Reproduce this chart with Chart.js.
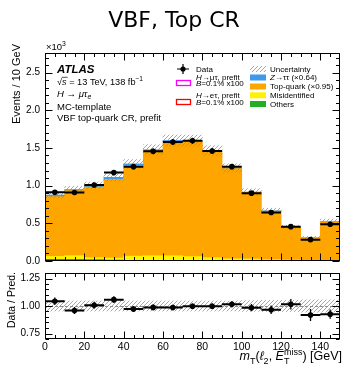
<!DOCTYPE html>
<html>
<head>
<meta charset="utf-8">
<script src="https://cdn.jsdelivr.net/npm/chart.js@4.4.1/dist/chart.umd.min.js"></script>
<style>
  html, body { margin: 0; padding: 0; background: #fff; }
  #wrap { position: relative; width: 344px; height: 369px; overflow: hidden; background: #fff; }
  canvas { position: absolute; left: 0; }
  #main { top: 0; }
  #ratio { top: 262px; }
</style>
</head>
<body>
<div id="wrap">
  <canvas id="main" width="344" height="272" style="width:344px;height:272px"></canvas>
  <canvas id="ratio" width="344" height="107" style="width:344px;height:107px"></canvas>
</div>
<script>
// m_T bins, 10 GeV wide, 0-150 GeV
const binLow = [0, 10, 20, 30, 40, 50, 60, 70, 80, 90, 100, 110, 120, 130, 140];
const binWidth = 10;

// events per bin
const dataCounts = [913, 908, 1008, 1173, 1252, 1456, 1578, 1595, 1460, 1252, 900, 643, 456, 283, 487];
const others     = [5, 5, 4, 4, 4, 4, 4, 3, 3, 3, 2, 2, 2, 1, 1];
const misid      = [55, 65, 40, 35, 60, 65, 65, 55, 40, 25, 25, 15, 10, 8, 6];
const topQuark   = [795, 862, 937, 1045, 1203, 1391, 1518, 1530, 1412, 1199, 882, 645, 434, 297, 517];
const ztautau    = [20, 15, 20, 25, 20, 15, 12, 10, 8, 6, 5, 4, 3, 2, 2];
// relative uncertainty on the prediction
const predUnc    = [0.045, 0.045, 0.045, 0.045, 0.045, 0.045, 0.045, 0.045, 0.045, 0.045, 0.048, 0.05, 0.05, 0.055, 0.055];
// signals (x100)
const sigMuTau   = [12, 14, 10, 8, 6, 5, 4, 3, 3, 2, 2, 1, 1, 1, 1];
const sigETau    = [15, 10, 8, 6, 5, 4, 3, 3, 2, 2, 1, 1, 1, 1, 1];

const yTicksMain  = [0, 500, 1000, 1500, 2000, 2500];
const yTicksRatio = [0.75, 1.0, 1.25];
const xTicks      = [0, 20, 40, 60, 80, 100, 120, 140];

const FAM = '"Liberation Sans", Arial, sans-serif';
const C_TOP = '#FFA500', C_ZTT = '#3D9BE9', C_MIS = '#FFF200', C_OTH = '#22B022';

const centers = binLow.map(v => v + binWidth / 2);
const pred = binLow.map((_, i) => others[i] + misid[i] + topQuark[i] + ztautau[i]);
const ratio = dataCounts.map((d, i) => d / pred[i]);
const ratioErr = dataCounts.map((d, i) => Math.sqrt(d) / pred[i]);

function hatch() {
  const c = document.createElement('canvas');
  c.width = c.height = 4;
  const g = c.getContext('2d');
  g.strokeStyle = '#909090';
  g.lineWidth = 0.8;
  g.beginPath();
  g.moveTo(0, 4); g.lineTo(4, 0);
  g.moveTo(-1, 1); g.lineTo(1, -1);
  g.moveTo(3, 5); g.lineTo(5, 3);
  g.stroke();
  return g.createPattern(c, 'repeat');
}

// text with italic / sub / sup pieces
function rich(ctx, x, y, parts, size, align) {
  const font = p => (p.i ? 'italic ' : '') + (p.b ? 'bold ' : '') + ((p.d || p.u) ? size * 0.72 : size) + 'px ' + FAM;
  let w = 0;
  parts.forEach(p => { ctx.font = font(p); p.w = ctx.measureText(p.t).width; if (!p.k) w += p.w; });
  let cx = align === 'right' ? x - w : align === 'center' ? x - w / 2 : x;
  ctx.textAlign = 'left';
  ctx.textBaseline = 'alphabetic';
  parts.forEach(p => {
    ctx.font = font(p);
    const dy = p.d ? size * 0.3 : p.u ? -size * 0.42 : 0;
    ctx.fillText(p.t, cx, y + dy);
    if (p.o) {
      ctx.beginPath();
      ctx.lineWidth = 0.7;
      ctx.moveTo(cx, y - size * 0.78);
      ctx.lineTo(cx + p.w + 1, y - size * 0.78);
      ctx.stroke();
    }
    if (!p.k) cx += p.w;
  });
}

function frameTicks(chart, yId, yMajor, yMinor) {
  const { ctx, chartArea: a } = chart;
  const xs = chart.scales.x, ys = chart.scales[yId];
  const L = Math.round(a.left) + 0.5, R = Math.round(a.right) - 0.5;
  const T = Math.round(a.top) + 0.5, B = Math.round(a.bottom) - 0.5;
  ctx.save();
  ctx.strokeStyle = '#000';
  ctx.lineWidth = 1;
  ctx.beginPath();
  for (let v = 0; v < 150; v += 5) {
    const px = Math.round(xs.getPixelForValue(v)) + 0.5;
    const len = v % 20 === 0 ? 7 : 3.5;
    ctx.moveTo(px, B); ctx.lineTo(px, B - len);
    ctx.moveTo(px, T); ctx.lineTo(px, T + len);
  }
  const n = Math.round((ys.max - ys.min) / yMinor);
  for (let k = 0; k <= n; k++) {
    const v = Math.round((ys.min + k * yMinor) / yMinor) * yMinor;
    if (v < ys.min || v > ys.max) continue;
    const py = Math.round(ys.getPixelForValue(v)) + 0.5;
    const major = Math.abs(v / yMajor - Math.round(v / yMajor)) < 1e-6;
    const len = major ? 7 : 3.5;
    ctx.moveTo(L, py); ctx.lineTo(L + len, py);
    ctx.moveTo(R, py); ctx.lineTo(R - len, py);
  }
  ctx.stroke();
  ctx.strokeRect(L, T, R - L, B - T);
  ctx.restore();
}

function errorBars(chart, yId, ys, errs, hw, vw) {
  const { ctx } = chart;
  const xs = chart.scales.x, sc = chart.scales[yId];
  ctx.save();
  ctx.strokeStyle = '#000';
  ctx.beginPath();
  ctx.lineWidth = hw;
  centers.forEach((c, i) => {
    const py = sc.getPixelForValue(ys[i]);
    ctx.moveTo(xs.getPixelForValue(c - binWidth / 2), py);
    ctx.lineTo(xs.getPixelForValue(c + binWidth / 2), py);
  });
  ctx.stroke();
  ctx.beginPath();
  ctx.lineWidth = vw;
  centers.forEach((c, i) => {
    const px = xs.getPixelForValue(c);
    ctx.moveTo(px, sc.getPixelForValue(ys[i] - errs[i]));
    ctx.lineTo(px, sc.getPixelForValue(ys[i] + errs[i]));
  });
  ctx.stroke();
  ctx.restore();
}

const hatchFill = hatch();

const mainDecor = {
  id: 'mainDecor',
  beforeDatasetDraw(chart, args) {
    if (args.index === 0) errorBars(chart, 'yu', dataCounts, dataCounts.map(Math.sqrt), 2, 1.3);
  },
  afterDraw(chart) {
    const ctx = chart.ctx;
    frameTicks(chart, 'y', 500, 100);
    ctx.save();
    ctx.fillStyle = '#000';
    ctx.strokeStyle = '#000';
    // title
    ctx.font = '22px "DejaVu Sans"';
    ctx.textAlign = 'center';
    ctx.textBaseline = 'alphabetic';
    ctx.fillText('VBF, Top CR', 174, 27);
    // multiplier
    rich(ctx, 46, 50, [{ t: '\u00D710' }, { t: '3', u: 1 }], 9.5, 'left');
    // axis title
    ctx.save();
    ctx.translate(20, 44);
    ctx.rotate(-Math.PI / 2);
    ctx.font = '11px ' + FAM;
    ctx.textAlign = 'right';
    ctx.fillText('Events / 10 GeV', 0, 0);
    ctx.restore();
    // labels
    rich(ctx, 57, 73, [{ t: 'ATLAS', i: 1, b: 1 }], 11.5, 'left');
    rich(ctx, 57, 84.5, [{ t: '\u221A' }, { t: 's', i: 1, o: 1 }, { t: ' = 13 TeV, 138 fb' }, { t: '\u22121', u: 1 }], 9.2, 'left');
    rich(ctx, 57, 96.5, [{ t: 'H', i: 1 }, { t: ' \u2192 ' }, { t: '\u03BC\u03C4', i: 1 }, { t: 'e', i: 1, d: 1 }], 9.5, 'left');
    rich(ctx, 57, 109.5, [{ t: 'MC-template' }], 9.5, 'left');
    rich(ctx, 57, 121, [{ t: 'VBF top-quark CR, prefit' }], 9.5, 'left');

    // legend, left column
    const fs = 8;
    ctx.fillStyle = '#000';
    ctx.beginPath(); ctx.arc(183, 69, 2.6, 0, Math.PI * 2); ctx.fill();
    ctx.lineWidth = 1.2;
    ctx.beginPath(); ctx.moveTo(177, 69); ctx.lineTo(189, 69); ctx.moveTo(183, 64); ctx.lineTo(183, 74); ctx.stroke();
    rich(ctx, 196, 71.8, [{ t: 'Data' }], fs, 'left');
    ctx.lineWidth = 1.3;
    ctx.strokeStyle = '#FF00FF';
    ctx.strokeRect(176.5, 80.5, 14, 5);
    ctx.strokeStyle = '#FF0000';
    ctx.strokeRect(176.5, 99.5, 14, 5);
    ctx.strokeStyle = '#000';
    rich(ctx, 196, 79.8, [{ t: 'H', i: 1 }, { t: '\u2192\u03BC\u03C4, prefit' }], fs, 'left');
    rich(ctx, 196, 86.3, [{ t: 'B', i: 1 }, { t: '=0.1% x100' }], fs, 'left');
    rich(ctx, 196, 97.8, [{ t: 'H', i: 1 }, { t: '\u2192e\u03C4, prefit' }], fs, 'left');
    rich(ctx, 196, 104.6, [{ t: 'B', i: 1 }, { t: '=0.1% x100' }], fs, 'left');
    // legend, right column
    const rows = [
      [69, hatchFill, [{ t: 'Uncertainty' }]],
      [77.5, C_ZTT, [{ t: 'Z', i: 1 }, { t: '\u2192\u03C4\u03C4 (\u00D70.64)' }]],
      [86.5, C_TOP, [{ t: 'Top-quark (\u00D70.95)' }]],
      [95.3, C_MIS, [{ t: 'Misidentified' }]],
      [104, C_OTH, [{ t: 'Others' }]]
    ];
    rows.forEach(([y, fill, txt]) => {
      ctx.fillStyle = fill;
      ctx.fillRect(250, y - 3, 16, 6);
      ctx.fillStyle = '#000';
      rich(ctx, 270, y + 2.8, txt, fs, 'left');
    });
    ctx.restore();
  }
};

const ratioDecor = {
  id: 'ratioDecor',
  beforeDatasetDraw(chart, args) {
    if (args.index !== 0) return;
    const { ctx, chartArea: a } = chart;
    const py = Math.round(chart.scales.y.getPixelForValue(1)) + 0.5;
    ctx.save();
    ctx.strokeStyle = '#8c8c8c';
    ctx.lineWidth = 1;
    ctx.setLineDash([3, 2]);
    ctx.beginPath(); ctx.moveTo(a.left, py); ctx.lineTo(a.right, py); ctx.stroke();
    ctx.restore();
    errorBars(chart, 'y', ratio, ratioErr, 2, 1.3);
  },
  afterDraw(chart) {
    const ctx = chart.ctx;
    frameTicks(chart, 'y', 0.25, 0.05);
    ctx.save();
    ctx.fillStyle = '#000';
    ctx.save();
    ctx.translate(15, 10);
    ctx.rotate(-Math.PI / 2);
    ctx.font = '10.5px ' + FAM;
    ctx.textAlign = 'right';
    ctx.fillText('Data / Pred.', 0, 0);
    ctx.restore();
    rich(ctx, 342, 98, [
      { t: 'm', i: 1 }, { t: 'T', d: 1 }, { t: '(' }, { t: '\u2113', i: 1 }, { t: '2', d: 1 },
      { t: ', ' }, { t: 'E', i: 1 }, { t: 'T', d: 1, k: 1 }, { t: 'miss', u: 1 }, { t: ') [GeV]' }
    ], 12.5, 'right');
    ctx.restore();
  }
};

const tickFont = { family: 'Liberation Sans', size: 10 };

new Chart(document.getElementById('main'), {
  type: 'bar',
  data: {
    datasets: [
      {
        type: 'line', label: 'Data', yAxisID: 'yu', order: 0, showLine: false,
        data: centers.map((c, i) => ({ x: c, y: dataCounts[i] })),
        pointRadius: 2.8, pointBackgroundColor: '#000', pointBorderColor: '#000', pointBorderWidth: 0
      },
      {
        type: 'line', label: 'H\u2192\u03BC\u03C4', yAxisID: 'yu', order: 1, stepped: true,
        data: binLow.concat([150]).map((x, i) => ({ x, y: sigMuTau[Math.min(i, 14)] })),
        borderColor: '#FF00FF', borderWidth: 1.3, pointRadius: 0, fill: false
      },
      {
        type: 'line', label: 'H\u2192e\u03C4', yAxisID: 'yu', order: 1, stepped: true,
        data: binLow.concat([150]).map((x, i) => ({ x, y: sigETau[Math.min(i, 14)] })),
        borderColor: '#FF0000', borderWidth: 1.3, pointRadius: 0, fill: false
      },
      {
        label: 'Uncertainty', yAxisID: 'yu', order: 2,
        data: centers.map((c, i) => ({ x: c, y: [pred[i] * (1 - predUnc[i]), pred[i] * (1 + predUnc[i])] })),
        backgroundColor: hatchFill, borderWidth: 0
      },
      { label: 'Others', order: 3, data: centers.map((c, i) => ({ x: c, y: others[i] })), backgroundColor: C_OTH },
      { label: 'Misidentified', order: 3, data: centers.map((c, i) => ({ x: c, y: misid[i] })), backgroundColor: C_MIS },
      { label: 'Top-quark', order: 3, data: centers.map((c, i) => ({ x: c, y: topQuark[i] })), backgroundColor: C_TOP },
      { label: 'Z\u2192\u03C4\u03C4', order: 3, data: centers.map((c, i) => ({ x: c, y: ztautau[i] })), backgroundColor: C_ZTT }
    ]
  },
  options: {
    responsive: false,
    animation: false,
    events: [],
    barPercentage: 1,
    categoryPercentage: 1,
    layout: { padding: { top: 53, right: 2, bottom: 7, left: 0 } },
    datasets: { bar: { borderWidth: 0, inflateAmount: 0.4 } },
    plugins: { legend: { display: false }, tooltip: { enabled: false } },
    scales: {
      x: { type: 'linear', min: 0, max: 150, display: false, stacked: true, offset: false },
      y: {
        min: 0, max: 2760, stacked: true,
        afterFit: s => { s.width = 45; },
        afterBuildTicks: s => { s.ticks = yTicksMain.map(v => ({ value: v })); },
        grid: { display: false, drawTicks: false }, border: { display: false },
        ticks: { color: '#000', font: tickFont, padding: 5, callback: v => (v / 1000).toFixed(1) }
      },
      yu: { min: 0, max: 2760, display: false }
    }
  },
  plugins: [mainDecor]
});

new Chart(document.getElementById('ratio'), {
  type: 'bar',
  data: {
    datasets: [
      {
        type: 'line', label: 'Data', order: 0, showLine: false,
        data: centers.map((c, i) => ({ x: c, y: ratio[i] })),
        pointRadius: 2.8, pointBackgroundColor: '#000', pointBorderColor: '#000', pointBorderWidth: 0
      },
      {
        label: 'Uncertainty', order: 1,
        data: centers.map((c, i) => ({ x: c, y: [1 - predUnc[i], 1 + predUnc[i]] })),
        backgroundColor: hatchFill, borderWidth: 0, inflateAmount: 0.4
      }
    ]
  },
  options: {
    responsive: false,
    animation: false,
    events: [],
    barPercentage: 1,
    categoryPercentage: 1,
    layout: { padding: { top: 6, right: 2, bottom: 0, left: 0 } },
    plugins: { legend: { display: false }, tooltip: { enabled: false } },
    scales: {
      x: {
        type: 'linear', min: 0, max: 150, offset: false,
        afterFit: s => { s.height = 30; },
        afterBuildTicks: s => { s.ticks = xTicks.map(v => ({ value: v })); },
        grid: { display: false, drawTicks: false }, border: { display: false },
        ticks: { color: '#000', font: { family: 'Liberation Sans', size: 10.5 }, padding: 2, maxRotation: 0 }
      },
      y: {
        min: 0.7, max: 1.3,
        afterFit: s => { s.width = 45; },
        afterBuildTicks: s => { s.ticks = yTicksRatio.map(v => ({ value: v })); },
        grid: { display: false, drawTicks: false }, border: { display: false },
        ticks: { color: '#000', font: tickFont, padding: 5, callback: v => v.toFixed(2) }
      }
    }
  },
  plugins: [ratioDecor]
});
</script>
</body>
</html>
